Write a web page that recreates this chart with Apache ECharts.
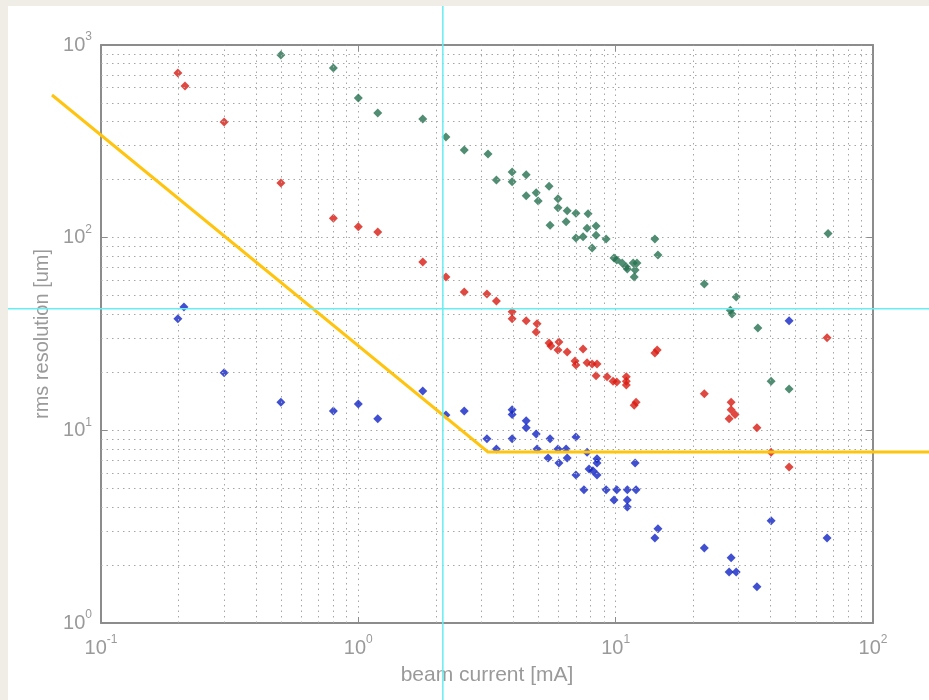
<!DOCTYPE html>
<html><head><meta charset="utf-8">
<script src="https://cdn.jsdelivr.net/npm/echarts@6/dist/echarts.min.js"></script>
<style>
html,body{margin:0;padding:0;background:#efede6;width:929px;height:700px;overflow:hidden}
#panel{position:absolute;left:8px;top:6px;width:921px;height:694px;background:#ffffff}
</style></head><body><div id="panel"></div>
<script>
// ---- data (beam current [mA], rms resolution [um]) ----
const greenPts = [[0.50,887],[0.80,760],[1.00,531],[1.19,444],[1.78,413],[2.19,333],[2.58,285],[3.19,272],[3.44,199],[3.96,219],[3.96,195],[4.49,212],[4.49,165],[4.91,171],[5.00,155],[5.51,185],[5.56,116],[5.97,159],[5.97,143],[6.42,121],[6.48,138],[7.01,134],[7.01,99.6],[7.47,101],[7.74,112],[7.81,133],[8.10,88.4],[8.39,115],[8.39,103],[9.18,98.5],[9.85,78.5],[10.1,76.6],[10.6,73.9],[11.0,70.5],[11.1,68.8],[11.7,73.9],[11.9,68.0],[11.8,62.5],[12.1,73.9],[14.2,98.5],[14.6,81.3],[22.1,57.5],[29.4,49.2],[27.9,42.0],[28.3,40.2],[35.7,34.0],[66.9,105],[40.2,18.0],[47.2,16.4]];
const redPts = [[0.199,716],[0.212,613],[0.301,398],[0.50,192],[0.80,126],[1.00,114],[1.19,107],[1.78,74.8],[2.19,62.5],[2.58,52.3],[3.16,51.0],[3.44,46.9],[3.96,41.2],[3.96,37.9],[4.49,37.0],[4.95,35.7],[4.91,32.4],[5.51,28.4],[5.60,27.4],[6.02,28.7],[5.97,26.1],[6.48,25.5],[7.47,26.4],[6.95,22.9],[7.01,21.8],[7.74,22.4],[8.10,22.1],[8.46,22.1],[8.39,19.2],[9.26,19.0],[9.77,18.0],[10.1,17.8],[11.0,19.0],[11.0,18.0],[11.0,17.2],[12.0,14.0],[11.8,13.5],[14.2,25.2],[14.5,26.1],[22.1,15.5],[28.1,14.0],[28.1,12.8],[29.1,12.1],[27.6,11.5],[35.4,10.3],[40.2,7.7],[47.2,6.46],[66.3,30.2]];
const bluePts = [[0.199,37.9],[0.210,43.7],[0.301,19.9],[0.50,14.0],[0.80,12.6],[1.00,13.7],[1.19,11.5],[1.78,16.0],[2.19,12.0],[2.58,12.6],[3.16,9.03],[3.44,8.0],[3.96,12.8],[3.96,12.1],[3.96,9.03],[4.49,11.2],[4.49,10.3],[4.91,9.58],[4.95,8.0],[5.56,9.03],[5.46,7.19],[5.97,8.0],[6.02,6.77],[6.42,8.0],[6.48,7.19],[7.01,9.24],[7.01,5.87],[7.74,7.7],[8.46,7.11],[8.46,6.77],[7.88,6.30],[8.16,6.16],[8.46,5.87],[7.53,4.91],[9.18,4.91],[10.1,4.91],[11.1,4.91],[12.0,4.91],[9.85,4.35],[11.1,4.35],[11.1,4.00],[11.9,6.77],[14.6,3.08],[14.2,2.76],[22.1,2.45],[28.1,2.18],[27.6,1.84],[29.4,1.84],[35.4,1.54],[40.2,3.39],[66.3,2.76],[47.2,37.0]];
const limitLine = [[0.0645,550],[3.19,7.73],[1000,7.73]];
const crossX = 2.13;
const crossY = 42.7;
const xRange = [0.1, 100];
const yRange = [1, 1000];
const xDecades = [0.1, 1, 10];
const yDecades = [1, 10, 100];
const minorMult = [2,3,4,5,6,7,8,9];
const xName = 'beam current [mA]';
const yName = 'rms resolution [um]';

// ---- build ----
const FONT = 'Liberation Sans, Arial, sans-serif';
const TXT = '#9a9a9a';
const gridDash = {color:'#a6a6a6', width:1, type:[1.5,4]};
const minorX = [], minorY = [];
xDecades.forEach(d => minorMult.forEach(m => minorX.push({xAxis: +(d*m).toPrecision(3)})));
yDecades.forEach(d => minorMult.forEach(m => minorY.push({yAxis: +(d*m).toPrecision(3)})));

const labelFmt = v => '{b|10}{s|' + Math.round(Math.log10(v)) + '}';
const rich = {
  b: {fontSize:20, color:TXT, fontFamily:FONT, lineHeight:28, verticalAlign:'middle'},
  s: {fontSize:12, color:TXT, fontFamily:FONT, lineHeight:28, verticalAlign:'top'}
};
const frameLine = {show:true, lineStyle:{color:'#8c8c8c', width:2}};
const tick = {show:true, inside:true, length:6, lineStyle:{color:'#8c8c8c', width:1}};

const chart = echarts.init(document.getElementById('panel'), null, {renderer:'canvas'});
chart.setOption({
  animation:false,
  backgroundColor:'#ffffff',
  grid:{left:93, right:56, top:39, bottom:77},
  xAxis:[{
    type:'log', logBase:10, min:xRange[0], max:xRange[1], position:'bottom',
    axisLine:frameLine, axisTick:tick,
    axisLabel:{formatter:labelFmt, rich:rich, margin:11, showMinLabel:true, showMaxLabel:true},
    splitLine:{show:true, lineStyle:gridDash},
    name:xName, nameLocation:'middle', nameGap:42,
    nameTextStyle:{fontSize:21, color:TXT, fontFamily:FONT}
  },{
    type:'log', logBase:10, min:xRange[0], max:xRange[1], position:'top',
    axisLine:frameLine, axisTick:tick, axisLabel:{show:false}, splitLine:{show:false}
  }],
  yAxis:[{
    type:'log', logBase:10, min:yRange[0], max:yRange[1], position:'left',
    axisLine:frameLine, axisTick:tick,
    axisLabel:{formatter:labelFmt, rich:rich, margin:9, showMinLabel:true, showMaxLabel:true},
    splitLine:{show:true, lineStyle:gridDash},
    name:yName, nameLocation:'middle', nameGap:48,
    nameTextStyle:{fontSize:20, color:TXT, fontFamily:FONT}
  },{
    type:'log', logBase:10, min:yRange[0], max:yRange[1], position:'right',
    axisLine:frameLine, axisTick:tick, axisLabel:{show:false}, splitLine:{show:false}
  }],
  series:[
    {type:'line', data:[], silent:true, z:1,
     markLine:{silent:true, symbol:'none', label:{show:false}, lineStyle:gridDash, animation:false,
               data:minorX.concat(minorY)}},
    {type:'scatter', name:'green', data:greenPts, symbol:'diamond', symbolSize:9,
     itemStyle:{color:'#24704f'}, z:3},
    {type:'scatter', name:'red', data:redPts, symbol:'diamond', symbolSize:9,
     itemStyle:{color:'#d81b12'}, z:3},
    {type:'scatter', name:'blue', data:bluePts, symbol:'diamond', symbolSize:9,
     itemStyle:{color:'#1024c4'}, z:3}
  ]
});

// Overlay lines extend beyond the plot frame: map data through the chart's own scales.
const toPx = p => chart.convertToPixel({xAxisIndex:0, yAxisIndex:0}, p);
chart.setOption({
  graphic:[
    {type:'polyline', silent:true, z:100,
     shape:{points: limitLine.map(toPx)},
     style:{stroke:'#ffc40f', lineWidth:3, fill:null}},
    {type:'polyline', silent:true, z:101,
     shape:{points: [[crossX,1e5],[crossX,0.01]].map(toPx)},
     style:{stroke:'#66eef0', lineWidth:1.5, fill:null}},
    {type:'polyline', silent:true, z:101,
     shape:{points: [[0.001,crossY],[1e4,crossY]].map(toPx)},
     style:{stroke:'#66eef0', lineWidth:1.5, fill:null}}
  ]
});
</script></body></html>
